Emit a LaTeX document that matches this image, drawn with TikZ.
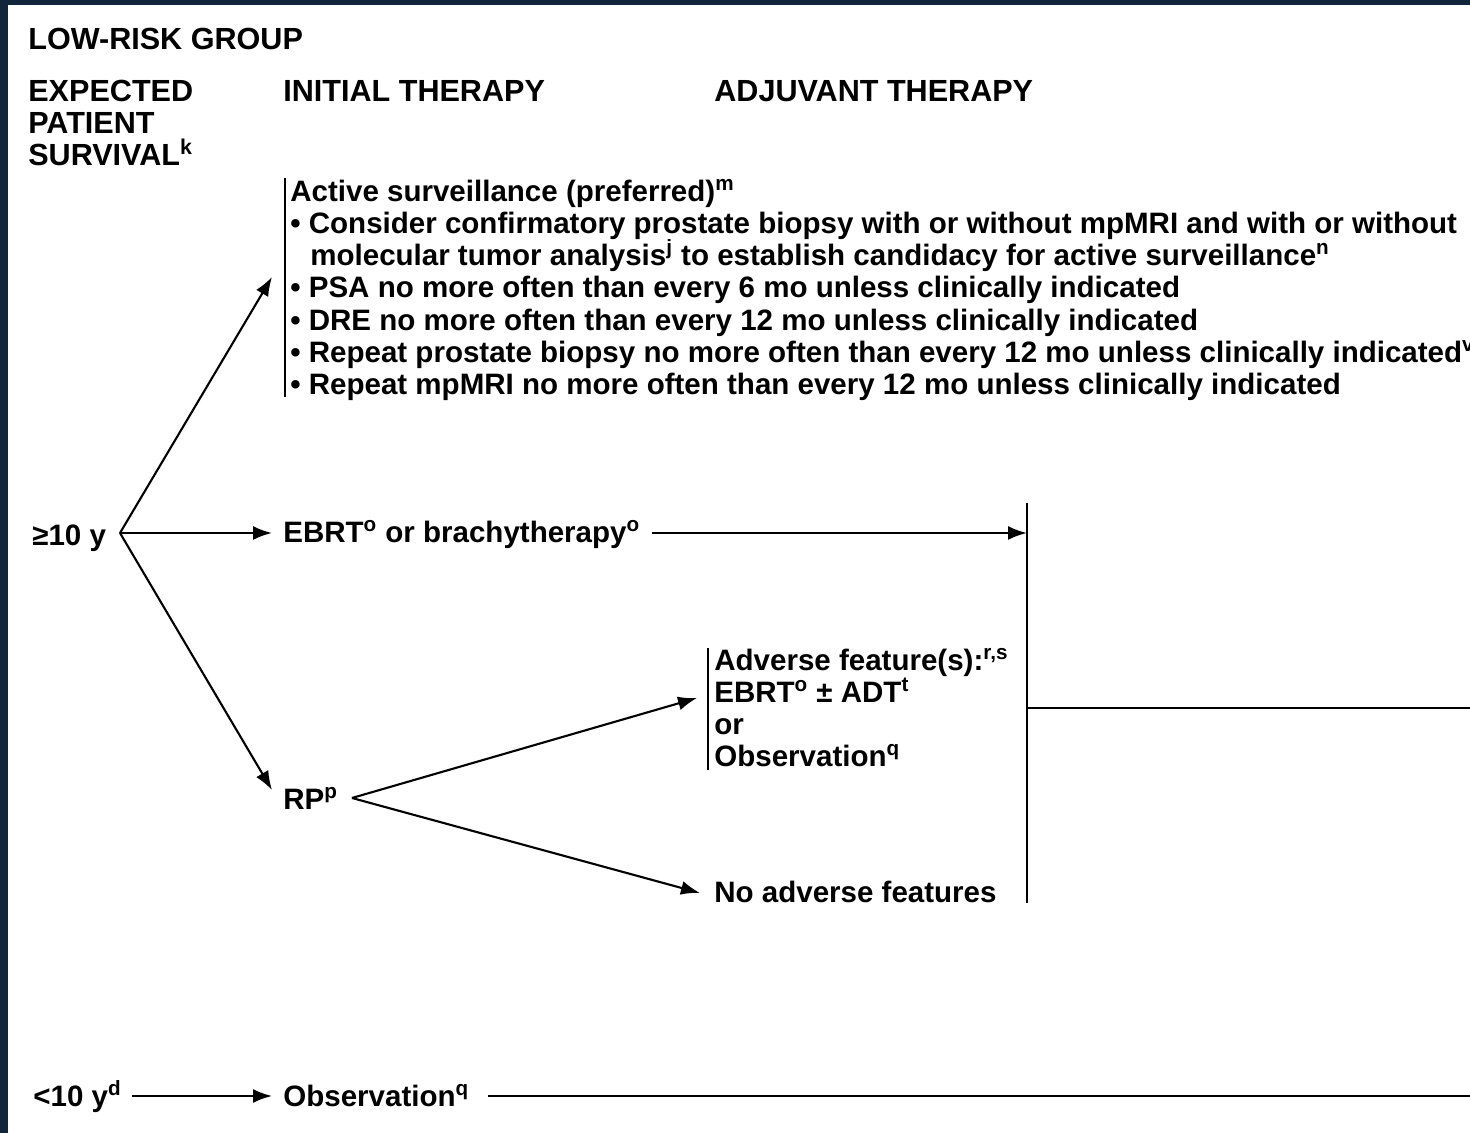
\documentclass[tikz,border=0pt]{standalone}
\usepackage{fontspec}
\setmainfont{Liberation Sans}
\usepackage{xcolor}
\usepackage{tikz}
\usetikzlibrary{arrows.meta, positioning}
\definecolor{navy}{RGB}{17,38,58}
\tikzset{
	txt/.style={anchor=base west, inner sep=0pt, font=\bfseries\fontsize{16.8}{18}\selectfont},
	hdr/.style={txt, font=\bfseries\fontsize{17.4}{19}\selectfont},
	wire/.style={line width=1.2pt},
	arr/.style={wire, -{Latex[length=0.38cm, width=0.28cm]}},
}

\begin{document}
\begin{tikzpicture}[transform shape]
				% Frame:
				\clip (0, 0) rectangle (29.4, 22.66);
				\fill[navy] (0, 0) rectangle (29.4, 22.66);
				\fill[white] (0.16, 0) rectangle (29.4, 22.56);
				% Headings:
				\node[hdr](N1) at (0.56, 21.66){LOW-RISK GROUP};
				\node[hdr](N2) at (0.56, 20.62){EXPECTED};
				\node[hdr](N3) at (0.56, 19.98){PATIENT};
				\node[hdr](N4) at (0.56, 19.34){SURVIVAL\textsuperscript{k}};
				\node[hdr](N5) at (5.66, 20.62){INITIAL THERAPY};
				\node[hdr](N6) at (14.28, 20.62){ADJUVANT THERAPY};
				% Active surveillance block:
				\node[txt](N7) at (5.80, 18.62){Active surveillance (preferred)\textsuperscript{m}};
				\node[txt](N8) at (5.80, 17.98){• Consider confirmatory prostate biopsy with or without mpMRI and with or without};
				\node[txt](N9) at (6.20, 17.34){molecular tumor analysis\textsuperscript{j} to establish candidacy for active surveillance\textsuperscript{n}};
				\node[txt](N10) at (5.80, 16.70){• PSA no more often than every 6 mo unless clinically indicated};
				\node[txt](N11) at (5.80, 16.04){• DRE no more often than every 12 mo unless clinically indicated};
				\node[txt](N12) at (5.80, 15.40){• Repeat prostate biopsy no more often than every 12 mo unless clinically indicated\textsuperscript{v}};
				\node[txt](N13) at (5.80, 14.76){• Repeat mpMRI no more often than every 12 mo unless clinically indicated};
				\coordinate (B1) at (5.70, 19.10);
				\coordinate (B2) at (5.70, 14.72);
				\draw[wire] (B1) -- (B2);
				% >=10 y branch:
				\node[txt](N14) at (0.64, 11.74){≥10 y};
				\coordinate (P1) at (2.40, 12.00);
				\coordinate (T1) at (5.44, 17.12);
				\coordinate (T2) at (5.44, 12.00);
				\coordinate (T3) at (5.44, 6.86);
				\draw[arr] (P1) -- (T1);
				\draw[arr] (P1) -- (T2);
				\draw[arr] (P1) -- (T3);
				\node[txt](N15) at (5.66, 11.80){EBRT\textsuperscript{o} or brachytherapy\textsuperscript{o}};
				\coordinate (V1) at (20.54, 12.60);
				\coordinate (V2) at (20.54, 4.60);
				\coordinate (V3) at (20.54, 8.50);
				\coordinate (E1) at (29.40, 8.50);
				\draw[arr] (13.04, 12.00) -- (V1 |- T2);
				\draw[wire] (V1) -- (V2);
				\draw[wire] (V3) -- (E1);
				% RP branch:
				\node[txt](N16) at (5.66, 6.46){RP\textsuperscript{p}};
				\coordinate (P2) at (7.04, 6.70);
				\coordinate (T4) at (13.94, 8.70);
				\coordinate (T5) at (14.00, 4.80);
				\draw[arr] (P2) -- (T4);
				\draw[arr] (P2) -- (T5);
				\node[txt](N17) at (14.28, 9.24){Adverse feature(s):\textsuperscript{r,s}};
				\node[txt](N18) at (14.28, 8.60){EBRT\textsuperscript{o} ± ADT\textsuperscript{t}};
				\node[txt](N19) at (14.28, 7.96){or};
				\node[txt](N20) at (14.28, 7.32){Observation\textsuperscript{q}};
				\coordinate (B3) at (14.16, 9.70);
				\coordinate (B4) at (14.16, 7.26);
				\draw[wire] (B3) -- (B4);
				\node[txt](N21) at (14.28, 4.60){No adverse features};
				% <10 y:
				\node[txt](N22) at (0.66, 0.52){<10 y\textsuperscript{d}};
				\coordinate (T6) at (5.44, 0.74);
				\draw[arr] (2.64, 0.74) -- (T6);
				\node[txt](N23) at (5.66, 0.52){Observation\textsuperscript{q}};
				\coordinate (E2) at (29.40, 0.74);
				\draw[wire] (9.76, 0.74) -- (E2);
			\end{tikzpicture}
\end{document}
